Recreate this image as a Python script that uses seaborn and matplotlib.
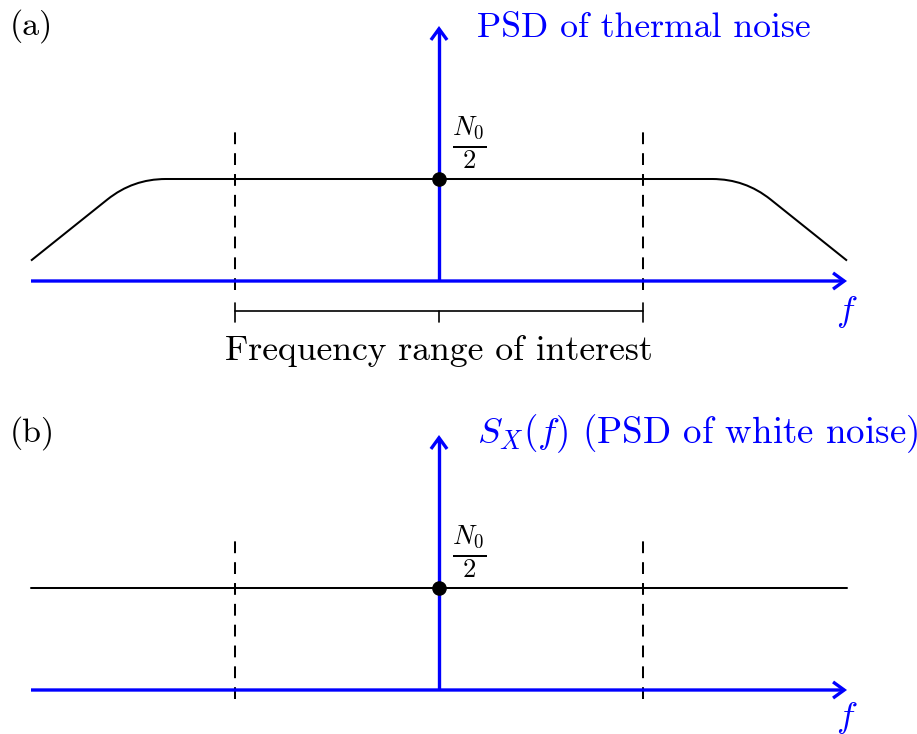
import numpy as np
import matplotlib
matplotlib.use("Agg")
import matplotlib.pyplot as plt
from matplotlib.path import Path
from matplotlib.patches import PathPatch
import seaborn as sns

# ---- values ----
f_span = [-2.0, 2.0]                 # frequency axis extent
psd_axis_top = 1.25                  # top of the PSD axis
band_edges = [-1.0, 1.0]             # frequency range of interest
n0_half = 0.5                        # N0/2 level
thermal_f = [-2.0, -1.5, 1.5, 2.0]   # thermal-noise PSD corner points
thermal_psd = [0.1, 0.5, 0.5, 0.1]
white_f = [-2.0, 2.0]                # white-noise PSD
white_psd = [n0_half, n0_half]
marker_y = [-0.045, 0.74]            # extent of the dashed band markers

panel_labels = ["(a)", "(b)"]
panel_titles = ["PSD of thermal noise", r"$S_X(f)$ (PSD of white noise)"]
freq_label = r"$f$"
level_label = r"$\frac{N_0}{2}$"
band_label = "Frequency range of interest"

# ---- style ----
sns.set_style("white")
plt.rcParams["font.family"] = ["cmr10"]
plt.rcParams["mathtext.fontset"] = "cm"
plt.rcParams["axes.formatter.use_mathtext"] = True
plt.rcParams["lines.scale_dashes"] = False
plt.rcParams["text.color"] = "black"

BLUE = "#0000ff"
AXIS_LW = 2.4
CURVE_LW = 1.45
FS = 25.7
CORNER_R = 0.16

W, H = 917, 734
PX = 204.0          # pixels per unit on both axes
X0 = 439.0          # pixel column of f = 0

fig = plt.figure(figsize=(W / 100, H / 100), dpi=100)


def make_axes(top_px, bottom_px, zero_px):
    ax = fig.add_axes([0, 1 - bottom_px / H, 1, (bottom_px - top_px) / H])
    ax.set_xlim(-X0 / PX, (W - X0) / PX)
    ax.set_ylim((zero_px - bottom_px) / PX, (zero_px - top_px) / PX)
    ax.axis("off")
    return ax


def rounded_path(xs, ys, r):
    pts = np.column_stack([xs, ys]).astype(float)
    verts = [tuple(pts[0])]
    codes = [Path.MOVETO]
    for i in range(1, len(pts) - 1):
        p, c, n = pts[i - 1], pts[i], pts[i + 1]
        a = c + (p - c) / np.linalg.norm(p - c) * r
        b = c + (n - c) / np.linalg.norm(n - c) * r
        verts += [tuple(a), tuple(c), tuple(b)]
        codes += [Path.LINETO, Path.CURVE3, Path.CURVE3]
    verts.append(tuple(pts[-1]))
    codes.append(Path.LINETO)
    return Path(verts, codes)


def arrow(ax, start, end):
    ax.annotate("", xy=end, xytext=start,
                arrowprops=dict(arrowstyle="->,head_length=0.8,head_width=0.58",
                                color=BLUE, lw=AXIS_LW, shrinkA=0, shrinkB=0,
                                mutation_scale=10, joinstyle="miter",
                                capstyle="butt"))


def draw_panel(ax, label, title, title_fs, label_y, f_y):
    for fe in band_edges:
        ax.plot([fe, fe], marker_y, color="black", lw=CURVE_LW,
                dashes=(8.5, 6.5), zorder=2)
    arrow(ax, (f_span[0], 0), (f_span[1], 0))
    ax.plot([0, 0], [0, psd_axis_top - 0.03], color=BLUE, lw=AXIS_LW,
            solid_capstyle="butt", zorder=3)
    arrow(ax, (0, psd_axis_top - 0.04), (0, psd_axis_top))
    ax.plot([0], [n0_half], "o", color="black", ms=9.5, zorder=5)
    ax.text(0.062, n0_half + 0.032, level_label, fontsize=27.5, ha="left",
            va="bottom", color="black")
    ax.text(-2.103, label_y, label, fontsize=24.5, ha="left", va="baseline",
            color="black")
    ax.text(0.186, label_y - 0.01, title, fontsize=title_fs, ha="left",
            va="baseline", color=BLUE)
    ax.text(2.0, f_y, freq_label, fontsize=FS, ha="center", va="baseline",
            color=BLUE)


# panel (a): thermal noise
ax_a = make_axes(0, 400, 281)
ax_a.add_patch(PathPatch(rounded_path(thermal_f, thermal_psd, CORNER_R),
                         fill=False, edgecolor="black", lw=CURVE_LW, zorder=2))
draw_panel(ax_a, panel_labels[0], panel_titles[0], FS, 1.206, -0.196)

# bracket marking the band of interest
br_y, br_hi, br_lo = -0.147, -0.108, -0.201
ax_a.plot(band_edges, [br_y, br_y], color="black", lw=1.2)
for fe in band_edges:
    ax_a.plot([fe, fe], [br_hi, br_lo], color="black", lw=1.2)
ax_a.plot([0, 0], [br_y, br_lo], color="black", lw=1.2)
ax_a.text(0, -0.385, band_label, fontsize=FS, ha="center", va="baseline",
          color="black")

# panel (b): white noise
ax_b = make_axes(400, H, 690)
sns.lineplot(x=white_f, y=white_psd, ax=ax_b, color="black", lw=CURVE_LW,
             zorder=2)
draw_panel(ax_b, panel_labels[1], panel_titles[1], 26.6, 1.22, -0.18)

fig.savefig("out.png", dpi=100)
